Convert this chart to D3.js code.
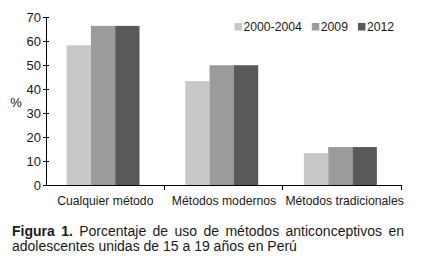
<!DOCTYPE html>
<html>
<head>
<meta charset="utf-8">
<script src="https://cdn.jsdelivr.net/npm/d3@7"></script>
<style>
  body { margin: 0; background: #fff; }
  #wrap { position: relative; width: 421px; height: 262px; overflow: hidden; }
  svg text { font-family: "Liberation Sans", Arial, sans-serif; fill: #1a1a1a; }
  .caption {
    position: absolute; left: 12px; top: 224px; width: 392px;
    font-family: "Liberation Sans", Arial, sans-serif; font-size: 14px;
    line-height: 15px; color: #1a1a1a; text-align: justify;
  }
</style>
</head>
<body>
<div id="wrap">
  <svg id="chart" width="421" height="222"></svg>
  <div class="caption"><b>Figura 1.</b> Porcentaje de uso de métodos anticonceptivos en adolescentes unidas de 15 a 19 años en Perú</div>
</div>
<script>
const categories = ['Cualquier método', 'Métodos modernos', 'Métodos tradicionales'];
const series = ['2000-2004', '2009', '2012'];
const values2000_2004 = [58.2, 43.3, 13.3];
const values2009 = [66.3, 49.9, 15.8];
const values2012 = [66.3, 49.9, 15.8];
const yTicks = [0, 10, 20, 30, 40, 50, 60, 70];
const colors = ['#c8c8ca', '#9b9b9d', '#59595b'];

const seriesValues = [values2000_2004, values2009, values2012];
const rows = [];
categories.forEach((c, i) => {
    series.forEach((s, j) => rows.push({ cat: c, ser: s, value: seriesValues[j][i] }));
});

const svg = d3.select('#chart');
const plot = { left: 46, right: 402, top: 17, bottom: 185 };

const x0 = d3.scaleBand().domain(categories).range([plot.left, plot.right]).padding(0);
const x1 = d3.scaleBand().domain(series).range([0, x0.bandwidth()])
    .paddingInner(0).paddingOuter(0.94).align(0.45);
const y = d3.scaleLinear().domain([0, 70]).range([plot.bottom, plot.top]);
const color = d3.scaleOrdinal().domain(series).range(colors);

// bars
svg.append('g').selectAll('rect')
    .data(rows)
    .enter().append('rect')
    .attr('x', d => x0(d.cat) + x1(d.ser))
    .attr('y', d => y(d.value))
    .attr('width', x1.bandwidth())
    .attr('height', d => y(0) - y(d.value))
    .attr('fill', d => color(d.ser));

// y axis (ticks cross the line)
const yAxis = svg.append('g');
yAxis.append('line')
    .attr('x1', plot.left + 0.5).attr('x2', plot.left + 0.5)
    .attr('y1', y(70)).attr('y2', y(0))
    .attr('stroke', '#000');
yAxis.selectAll('.tk').data(yTicks).enter().append('line')
    .attr('x1', plot.left - 3).attr('x2', plot.left + 3)
    .attr('y1', d => Math.round(y(d)) + 0.5).attr('y2', d => Math.round(y(d)) + 0.5)
    .attr('stroke', '#000');
yAxis.selectAll('text').data(yTicks).enter().append('text')
    .attr('x', plot.left - 5)
    .attr('y', d => y(d))
    .attr('dy', '0.35em')
    .attr('text-anchor', 'end')
    .style('font-size', '13px')
    .text(d => d);

svg.append('text')
    .attr('x', 16).attr('y', 102)
    .attr('dy', '0.35em')
    .attr('text-anchor', 'middle')
    .style('font-size', '13px')
    .text('%');

// x axis
const xAxis = svg.append('g');
xAxis.append('line')
    .attr('x1', plot.left).attr('x2', plot.right)
    .attr('y1', plot.bottom + 0.5).attr('y2', plot.bottom + 0.5)
    .attr('stroke', '#000');
const bounds = categories.map(c => x0(c)).concat([plot.right]);
xAxis.selectAll('.tk').data(bounds.slice(1)).enter().append('line')
    .attr('x1', d => Math.round(d) - 0.5).attr('x2', d => Math.round(d) - 0.5)
    .attr('y1', plot.bottom).attr('y2', plot.bottom + 5)
    .attr('stroke', '#000');
xAxis.selectAll('text').data(categories).enter().append('text')
    .attr('x', (d, i) => x0(d) + x0.bandwidth() / 2 + (i === 2 ? 2 : 0))
    .attr('y', 201)
    .attr('dy', '0.35em')
    .attr('text-anchor', 'middle')
    .style('font-size', '12.2px')
    .text(d => d);

// legend
const legend = svg.append('g');
let lx = 234.5;
series.forEach((s, i) => {
    legend.append('rect')
        .attr('x', lx).attr('y', 23)
        .attr('width', 7.5).attr('height', 7.5)
        .attr('fill', colors[i]);
    const t = legend.append('text')
        .attr('x', lx + 9).attr('y', 26.5)
        .attr('dy', '0.35em')
        .style('font-size', '12.2px')
        .text(s);
    lx += 9 + t.node().getComputedTextLength() + 10;
});
</script>
</body>
</html>
